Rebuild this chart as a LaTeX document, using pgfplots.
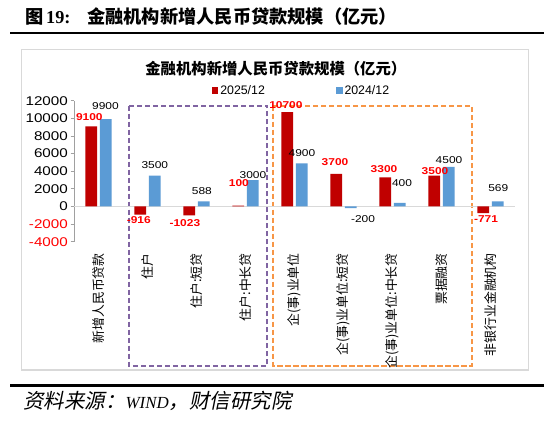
\documentclass[border=0pt]{standalone}
\usepackage{fontspec}
\usepackage{pgfplots}
\pgfplotsset{compat=1.18}
\usepackage{pgfplotstable}
\setmainfont{Liberation Sans}
\newfontfamily\numfont{Liberation Sans}[FakeStretch=1.2]
\newfontfamily\cjk{Noto Sans CJK SC}
\newfontfamily\cjksl{Noto Sans CJK SC}[FakeSlant=0.2]
\newfontfamily\serif{Liberation Serif}

\definecolor{barred}{HTML}{C00000}
\definecolor{barblue}{HTML}{5B9BD5}
\definecolor{boxpurple}{HTML}{8064A2}
\definecolor{boxorange}{HTML}{F79646}
\definecolor{framegray}{HTML}{D9D9D9}
\definecolor{axisgray}{HTML}{A0A0A0}

% dx, dy: label offsets (bp) from the bar end at the category centre
\pgfplotstableread{
x y lab dx dy
0 9100 9100 -9.2 9.4
1 -916 -916 -8.7 -5.6
2 -1023 -1023 -11.6 -7.7
3 100 100 -6.6 22.4
4 10700 10700 -8.6 7
5 3700 3700 -8.5 11.7
6 3300 3300 -8.5 8.2
7 3500 3500 -6.5 4.5
8 -771 -771 -4.5 -5.9
}\redtab

\pgfplotstableread{
x y lab dx dy
0 9900 9900 7.0 13.1
1 3500 3500 7.3 10.5
2 588 588 5.4 10.1
3 3000 3000 7.4 4.9
4 4900 4900 7.4 10.1
5 -200 -200 19.5 -10.9
6 400 400 9.5 19.8
7 4500 4500 7.5 6.9
8 569 569 7.8 13
}\bluetab

\begin{document}
\begin{tikzpicture}
\useasboundingbox (0bp,0bp) rectangle (550bp,-423bp);
\fill[white] (0bp,0bp) rectangle (550bp,-423bp);
% chart frame
\draw[framegray, line width=1.3bp] (21.7bp,-49.3bp) rectangle (528.3bp,-370bp);
% dashed group boxes
\draw[boxpurple, line width=2bp, dash pattern=on 5.3bp off 2.7bp] (129.3bp,-105.7bp) rectangle (267.3bp,-366bp);
\draw[boxorange, line width=2bp, dash pattern=on 5.3bp off 2.7bp] (273.3bp,-105.7bp) rectangle (471.7bp,-365.7bp);

\begin{axis}[
  at={(74bp,-241.7bp)}, anchor=south west,
  scale only axis, width=441bp, height=141bp,
  xmin=-0.5, xmax=8.5, ymin=-4000, ymax=12000,
  axis x line*=bottom, axis y line*=left,
  x axis line style={draw=none},
  y axis line style={draw=axisgray, line width=0.9bp},
  xtick={0,1,2,3,4,5,6,7,8},
  xticklabels={{新增人民币贷款},{住户},{住户:短贷},{住户:中长贷},{企(事)业单位},{企(事)业单位:短贷},{企(事)业单位:中长贷},{票据融资},{非银行业金融机构}},
  xtick style={draw=none},
  ytick={-4000,-2000,0,2000,4000,6000,8000,10000,12000},
  yticklabels={\textcolor{red}{-4000},\textcolor{red}{-2000},0,2000,4000,6000,8000,10000,12000},
  scaled y ticks=false,
  ytick style={draw=axisgray, line width=0.9bp},
  tick align=outside, major tick length=3.5bp,
  yticklabel style={font=\numfont\fontsize{12.7}{14}\selectfont, inner xsep=2.5bp},
  xticklabel style={font=\cjk\fontsize{12.9}{14}\selectfont, rotate=90, anchor=east, inner xsep=8bp},
  clip=false,
  legend columns=2,
  legend style={at={(0.3122,1.0738)}, anchor=west, draw=none, fill=none,
    font=\fontsize{12.4}{14}\selectfont, inner sep=0pt, outer sep=0pt,
    /tikz/every even column/.append style={column sep=69bp}},
  legend image code/.code={\fill[#1] (0bp,-3.3bp) rectangle (6.6bp,3.3bp);},
]
\draw[framegray, line width=1.5bp] (axis cs:-0.5,0) -- (axis cs:8.5,0);

\addplot[ybar, bar width=11.7bp, bar shift=-7.2bp, fill=barred, draw=none,
  nodes near coords, point meta=explicit symbolic,
  visualization depends on={\thisrow{dx}\as\dx},
  visualization depends on={\thisrow{dy}\as\dy},
  every node near coord/.append style={anchor=center, xshift={\dx*1bp}, yshift={\dy*1bp},
    font=\numfont\bfseries\fontsize{10}{12}\selectfont, text=red, inner sep=0pt},
] table[x=x, y=y, meta=lab] {\redtab};
\addlegendentry{2025/12}

\addplot[ybar, bar width=11.7bp, bar shift=7.2bp, fill=barblue, draw=none,
  nodes near coords, point meta=explicit symbolic,
  visualization depends on={\thisrow{dx}\as\dx},
  visualization depends on={\thisrow{dy}\as\dy},
  every node near coord/.append style={anchor=center, xshift={\dx*1bp}, yshift={\dy*1bp},
    font=\numfont\fontsize{10}{12}\selectfont, text=black, inner sep=0pt},
] table[x=x, y=y, meta=lab] {\bluetab};
\addlegendentry{2024/12}
\end{axis}

% titles
\node[anchor=west, inner sep=0pt] at (25bp,-16.7bp) {{\cjk\bfseries\fontsize{18.3}{20}\selectfont 图} {\serif\bfseries\fontsize{18.3}{20}\selectfont 19:}};
\node[anchor=west, inner sep=0pt] at (87bp,-16.7bp) {\cjk\bfseries\fontsize{18.3}{20}\selectfont 金融机构新增人民币贷款规模（亿元）};
\draw[line width=2.3bp] (10bp,-33.3bp) -- (544bp,-33.3bp);
\node[inner sep=0pt] at (275.8bp,-69bp) {\cjk\bfseries\fontsize{15.4}{17}\selectfont 金融机构新增人民币贷款规模（亿元）};
% source
\draw[line width=3bp] (10bp,-385.5bp) -- (544bp,-385.5bp);
\node[anchor=west, inner sep=0pt] at (23.3bp,-401bp) {{\cjksl\fontsize{20.5}{22}\selectfont 资料来源：}{\serif\itshape\fontsize{17}{20}\selectfont WIND}{\cjksl\fontsize{20.5}{22}\selectfont ，财信研究院}};
\end{tikzpicture}
\end{document}
